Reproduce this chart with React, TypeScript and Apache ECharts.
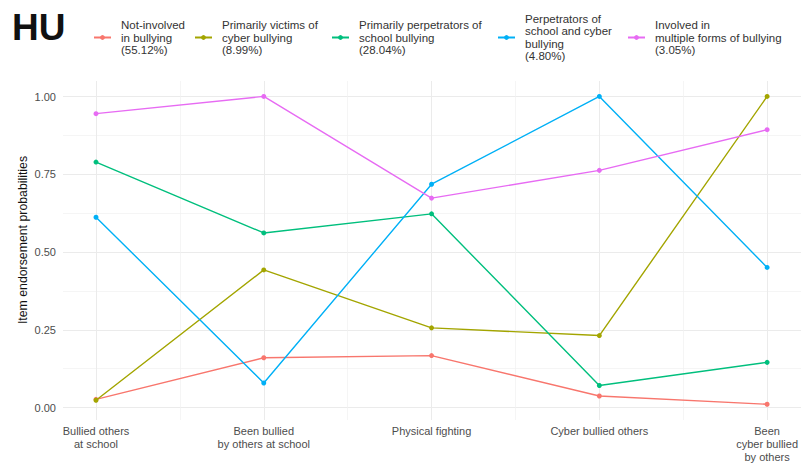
import React, { useEffect, useRef } from "react";
import * as echarts from "echarts";

// Item labels along the x axis
const categories = [
  "Bullied others\nat school",
  "Been bullied\nby others at school",
  "Physical fighting",
  "Cyber bullied others",
  "Been\ncyber bullied\nby others",
];

// Latent class names (with class sizes)
const classNames = [
  "Not-involved\nin bullying\n(55.12%)",
  "Primarily victims of\ncyber bullying\n(8.99%)",
  "Primarily perpetrators of\nschool bullying\n(28.04%)",
  "Perpetrators of\nschool and cyber\nbullying\n(4.80%)",
  "Involved in\nmultiple forms of bullying\n(3.05%)",
];

const classColors = ["#F8766D", "#A3A500", "#00BF7D", "#00B0F6", "#E76BF3"];

// Item endorsement probabilities per class
const notInvolved = [0.017, 0.152, 0.159, 0.028, 0.001];
const cyberVictims = [0.014, 0.437, 0.249, 0.224, 1.0];
const schoolPerpetrators = [0.787, 0.557, 0.619, 0.062, 0.137];
const schoolCyberPerpetrators = [0.608, 0.07, 0.715, 1.0, 0.445];
const multipleForms = [0.944, 1.0, 0.67, 0.76, 0.892];

const classValues = [
  notInvolved,
  cyberVictims,
  schoolPerpetrators,
  schoolCyberPerpetrators,
  multipleForms,
];

const yTicks = [0, 0.25, 0.5, 0.75, 1];

const FONT = '"Liberation Sans", Arial, Helvetica, sans-serif';
const legendLefts = [93, 194, 331, 497, 627];

export default function App() {
  const ref = useRef<HTMLDivElement>(null);

  useEffect(() => {
    if (!ref.current) return;
    const chart = echarts.init(ref.current, undefined, { renderer: "svg" });

    const legends = classNames.map((name, i) => {
      const lines = name.split("\n").length;
      return {
        data: [name],
        left: legendLefts[i],
        top: 37.5 - (lines * 12.5) / 2,
        orient: "horizontal",
        itemWidth: 17,
        itemHeight: 6,
        selectedMode: false,
        padding: 0,
        textStyle: {
          fontFamily: FONT,
          fontSize: 11.5,
          lineHeight: 12.5,
          color: "#333333",
          padding: [0, 0, 0, 5],
        },
      };
    });

    const option: any = {
      animation: false,
      backgroundColor: "#ffffff",
      title: {
        text: "HU",
        left: 12,
        top: 9,
        padding: 0,
        textStyle: {
          fontFamily: FONT,
          fontSize: 37,
          fontWeight: "bold",
          color: "#111111",
        },
      },
      legend: legends,
      grid: [
        // panel holding the lines and the vertical grid
        { left: 96, right: 30, top: 81, bottom: 40 },
        // y scale with horizontal grid across the whole panel
        { left: 63, right: 0, top: 96.5, bottom: 55.5 },
      ],
      xAxis: [
        {
          type: "value",
          gridIndex: 0,
          min: 0,
          max: categories.length - 1,
          interval: 1,
          axisLine: { show: false },
          axisTick: { show: false },
          minorTick: { show: false, splitNumber: 2 },
          splitLine: { show: true, lineStyle: { color: "#EBEBEB", width: 1 } },
          minorSplitLine: { show: true, lineStyle: { color: "#F1F1F1", width: 0.7 } },
          axisLabel: {
            margin: 4,
            fontFamily: FONT,
            fontSize: 11,
            lineHeight: 13,
            color: "#4D4D4D",
            showMinLabel: true,
            showMaxLabel: true,
            formatter: (v: number) => categories[Math.round(v)] ?? "",
          },
        },
        {
          type: "value",
          gridIndex: 1,
          min: 0,
          max: 1,
          show: false,
        },
      ],
      yAxis: [
        {
          type: "value",
          gridIndex: 0,
          min: -0.05,
          max: 1.05,
          show: false,
          splitLine: { show: false },
        },
        {
          type: "value",
          gridIndex: 1,
          min: yTicks[0],
          max: yTicks[yTicks.length - 1],
          interval: 0.25,
          axisLine: { show: false },
          axisTick: { show: false },
          minorTick: { show: false, splitNumber: 2 },
          splitLine: { show: true, lineStyle: { color: "#EBEBEB", width: 1 } },
          minorSplitLine: { show: true, lineStyle: { color: "#F1F1F1", width: 0.7 } },
          axisLabel: {
            margin: 7,
            fontFamily: FONT,
            fontSize: 11,
            color: "#4D4D4D",
            formatter: (v: number) => v.toFixed(2),
          },
        },
      ],
      graphic: [
        {
          type: "text",
          x: 23,
          y: 240,
          rotation: Math.PI / 2,
          style: {
            text: "Item endorsement probabilities",
            fontFamily: FONT,
            fontSize: 12.3,
            fill: "#111111",
            align: "center",
            verticalAlign: "middle",
          },
        },
      ],
      series: classNames.map((name, i) => ({
        name,
        type: "line",
        xAxisIndex: 0,
        yAxisIndex: 0,
        data: classValues[i].map((v, j) => [j, v]),
        symbol: "circle",
        symbolSize: 5,
        showSymbol: true,
        color: classColors[i],
        lineStyle: { width: 1.4, color: classColors[i] },
        itemStyle: { color: classColors[i] },
        emphasis: { disabled: true },
        z: 3 + i,
      })),
    };

    chart.setOption(option);
    return () => chart.dispose();
  }, []);

  return (
    <div
      ref={ref}
      style={{ position: "fixed", left: 0, top: 0, width: 801, height: 463 }}
    />
  );
}
